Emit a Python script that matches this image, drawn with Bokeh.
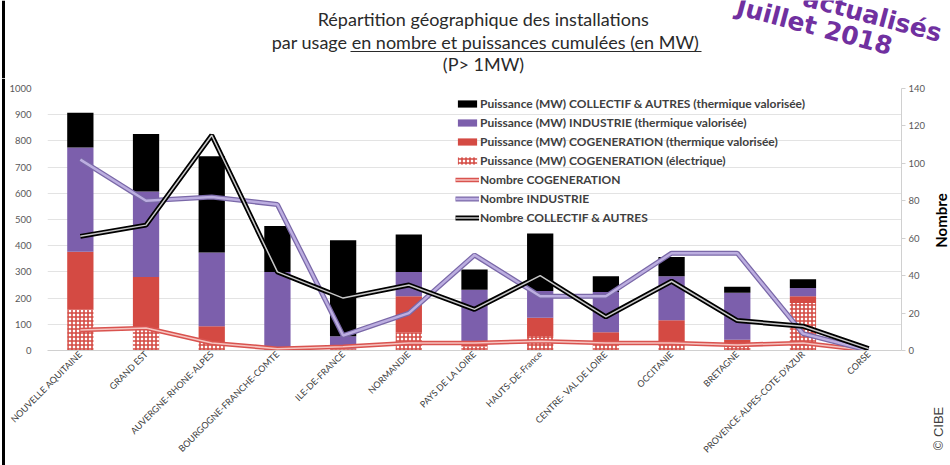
import numpy as np
from math import pi
from bokeh.plotting import figure
from bokeh.layouts import column, row
from bokeh.models import (ColumnDataSource, FactorRange, Range1d, LinearAxis, FixedTicker,
                          Legend, LegendItem)
from bokeh.core.properties import value
from bokeh.embed import file_html
from bokeh.resources import INLINE

# ---------------- data ----------------
categories = ["NOUVELLE AQUITAINE", "GRAND EST", "AUVERGNE-RHONE-ALPES", "BOURGOGNE-FRANCHE-COMTE",
              "ILE-DE-FRANCE", "NORMANDIE", "PAYS DE LA LOIRE", "HAUTS-DE-France",
              "CENTRE- VAL DE LOIRE", "OCCITANIE", "BRETAGNE", "PROVENCE-ALPES-COTE-D'AZUR", "CORSE"]

mw_cogen_elec = [156, 83, 32, 0, 5, 68, 15, 55, 27, 32, 15, 181, 0]
mw_cogen_therm = [221, 198, 61, 3, 3, 139, 19, 70, 43, 83, 26, 26, 0]
mw_industrie = [398, 326, 281, 297, 46, 93, 198, 102, 153, 168, 179, 32, 0]
mw_collectif = [132, 219, 367, 175, 367, 143, 77, 220, 60, 74, 23, 33, 0]

nb_cogen = [11, 12, 4, 1, 2, 4, 4, 5, 4, 4, 3, 4, 0]
nb_industrie = [102, 80, 82, 78, 8, 20, 51, 29, 29, 52, 52, 9, 0]
nb_collectif = [61, 67, 115, 42, 28, 35, 22, 40, 18, 37, 16, 13, 1]

left_ticks = [0, 100, 200, 300, 400, 500, 600, 700, 800, 900, 1000]
right_ticks = [0, 20, 40, 60, 80, 100, 120, 140]

legend_labels = ["Puissance (MW) COLLECTIF & AUTRES (thermique valorisée)",
                 "Puissance (MW) INDUSTRIE (thermique valorisée)",
                 "Puissance (MW) COGENERATION (thermique valorisée)",
                 "Puissance (MW) COGENERATION (électrique)",
                 "Nombre COGENERATION",
                 "Nombre INDUSTRIE",
                 "Nombre COLLECTIF & AUTRES"]

title_lines = ["Répartition  géographique des installations",
               "par usage en nombre et puissances cumulées (en MW)",
               "(P> 1MW)"]
stamp_lines = ["actualisés", "Juillet 2018"]
right_title = "Nombre"
credit = "© CIBE"

BLACK = "#000000"
PURPLE = "#7c5fac"
RED = "#d44a43"
TXT = "#404040"
FONT = "Lato"

# ---------------- stacking ----------------
stack = np.cumsum(np.array([mw_cogen_elec, mw_cogen_therm, mw_industrie, mw_collectif]), axis=0)
src = ColumnDataSource(dict(
    cat=categories,
    b0=[0] * len(categories), t0=stack[0],
    b1=stack[0], t1=stack[1],
    b2=stack[1], t2=stack[2],
    b3=stack[2], t3=stack[3],
    nc=nb_cogen, ni=nb_industrie, nk=nb_collectif,
))


def blank(w, h, x0, x1, y0, y1):
    f = figure(width=w, height=h, x_range=Range1d(x0, x1), y_range=Range1d(y0, y1),
               output_backend="svg", toolbar_location=None, x_axis_location=None,
               y_axis_location=None, min_border=0, frame_align=False)
    f.grid.visible = False
    f.outline_line_color = None
    f.background_fill_color = "white"
    f.border_fill_color = "white"
    return f


# ---------------- header (titles + stamp) ----------------
hdr = blank(950, 78, 0, 950, 78, 0)
hdr.text(x=[485, 485, 483], y=[18, 41, 63], text=title_lines, text_align="center",
         text_baseline="middle", text_font=value(FONT),
         text_font_size="18px", text_color="#2a2a2a")
hdr.segment(x0=[350], y0=[51], x1=[701], y1=[51], line_color="#2a2a2a", line_width=1.2)
hdr.text(x=[872, 814], y=[15, 26], text=stamp_lines, angle=-0.26, text_align="center",
         text_baseline="middle", text_font=value("DejaVu Sans"), text_font_style="bold",
         text_font_size="25px", text_color="#7030a0")
hdr.segment(x0=[3], y0=[0], x1=[3], y1=[78], line_color="#000000", line_width=3)

# ---------------- left strip (picture border) ----------------
strip = blank(5, 387, 0, 5, 465, 78)
strip.segment(x0=[3], y0=[78], x1=[3], y1=[465], line_color="#000000", line_width=3)

# ---------------- main chart ----------------
p = figure(x_range=FactorRange(factors=categories), y_range=Range1d(0, 1000),
           width=923, height=387, output_backend="svg", toolbar_location=None,
           min_border_left=42, min_border_right=23, min_border_top=10, min_border_bottom=115,
           frame_align=False)
p.extra_y_ranges = {"count": Range1d(0, 140)}
p.outline_line_color = None
p.background_fill_color = "white"
p.border_fill_color = "white"

r_elec = p.vbar(x="cat", bottom="b0", top="t0", width=0.4, source=src, fill_color="white",
                line_color=None, hatch_pattern="+", hatch_color=RED, hatch_scale=4, hatch_weight=1.6)
r_therm = p.vbar(x="cat", bottom="b1", top="t1", width=0.4, source=src, fill_color=RED, line_color=None)
r_ind = p.vbar(x="cat", bottom="b2", top="t2", width=0.4, source=src, fill_color=PURPLE, line_color=None)
r_coll = p.vbar(x="cat", bottom="b3", top="t3", width=0.4, source=src, fill_color=BLACK, line_color=None)

lc1 = p.line(x="cat", y="nc", source=src, y_range_name="count", line_color="#d9534f", line_width=4.5)
lc2 = p.line(x="cat", y="nc", source=src, y_range_name="count", line_color="#f6c4c0", line_width=1.5)
li1 = p.line(x="cat", y="ni", source=src, y_range_name="count", line_color="#7a68a8", line_width=5)
li2 = p.line(x="cat", y="ni", source=src, y_range_name="count", line_color="#bcaee0", line_width=2.5)
lk1 = p.line(x="cat", y="nk", source=src, y_range_name="count", line_color="#000000", line_width=5)
lk2 = p.line(x="cat", y="nk", source=src, y_range_name="count", line_color="#c8c8c8", line_width=1.5)

p.yaxis.ticker = FixedTicker(ticks=left_ticks)
p.yaxis.axis_line_color = None
p.yaxis.major_tick_line_color = None
p.yaxis.minor_tick_line_color = None
p.yaxis.major_label_text_font = FONT
p.yaxis.major_label_text_font_size = "9.5px"
p.yaxis.major_label_text_color = "#595959"
p.yaxis.major_label_standoff = 10

p.ygrid.grid_line_color = "#e3e3e3"
p.xgrid.grid_line_color = None

ax_r = LinearAxis(y_range_name="count", ticker=FixedTicker(ticks=right_ticks))
ax_r.axis_line_color = "#d0d0d0"
ax_r.major_tick_line_color = "#d0d0d0"
ax_r.major_tick_in = 0
ax_r.major_tick_out = 4
ax_r.minor_tick_line_color = None
ax_r.major_label_text_font = FONT
ax_r.major_label_text_font_size = "9.5px"
ax_r.major_label_text_color = "#595959"
ax_r.major_label_standoff = 3
p.add_layout(ax_r, "right")

p.xaxis.axis_line_color = "#d0d0d0"
p.xaxis.major_tick_line_color = None
p.xaxis.major_tick_out = 0
p.xaxis.major_label_orientation = pi / 4
p.xaxis.major_label_text_font = FONT
p.xaxis.major_label_text_font_size = "9px"
p.xaxis.major_label_text_color = TXT
p.xaxis.major_label_standoff = 2

items = [
    LegendItem(label=legend_labels[0], renderers=[r_coll]),
    LegendItem(label=legend_labels[1], renderers=[r_ind]),
    LegendItem(label=legend_labels[2], renderers=[r_therm]),
    LegendItem(label=legend_labels[3], renderers=[r_elec]),
    LegendItem(label=legend_labels[4], renderers=[lc1, lc2]),
    LegendItem(label=legend_labels[5], renderers=[li1, li2]),
    LegendItem(label=legend_labels[6], renderers=[lk1, lk2]),
]
legend = Legend(items=items, location=(408, 125), orientation="vertical")
legend.background_fill_alpha = 0
legend.border_line_color = None
legend.label_text_font = FONT
legend.label_text_font_style = "bold"
legend.label_text_font_size = "12px"
legend.label_text_color = TXT
legend.glyph_width = 24
legend.glyph_height = 9
legend.label_height = 15
legend.spacing = 4
legend.padding = 2
legend.margin = 0
legend.label_standoff = 1
p.add_layout(legend, "center")

# ---------------- right strip (axis title + credit) ----------------
side = blank(22, 387, 928, 950, 465, 78)
side.text(x=[940], y=[220], text=[right_title], angle=pi / 2, text_align="center",
          text_baseline="middle", text_font=value(FONT), text_font_style="bold",
          text_font_size="15px", text_color="#000000")
side.text(x=[938], y=[428], text=[credit], angle=pi / 2, text_align="center",
          text_baseline="middle", text_font=value("Liberation Sans"),
          text_font_size="13px", text_color=TXT)

layout = column(hdr, row(strip, p, side, spacing=0), spacing=0)
open("out.html", "w").write(file_html(layout, INLINE))
